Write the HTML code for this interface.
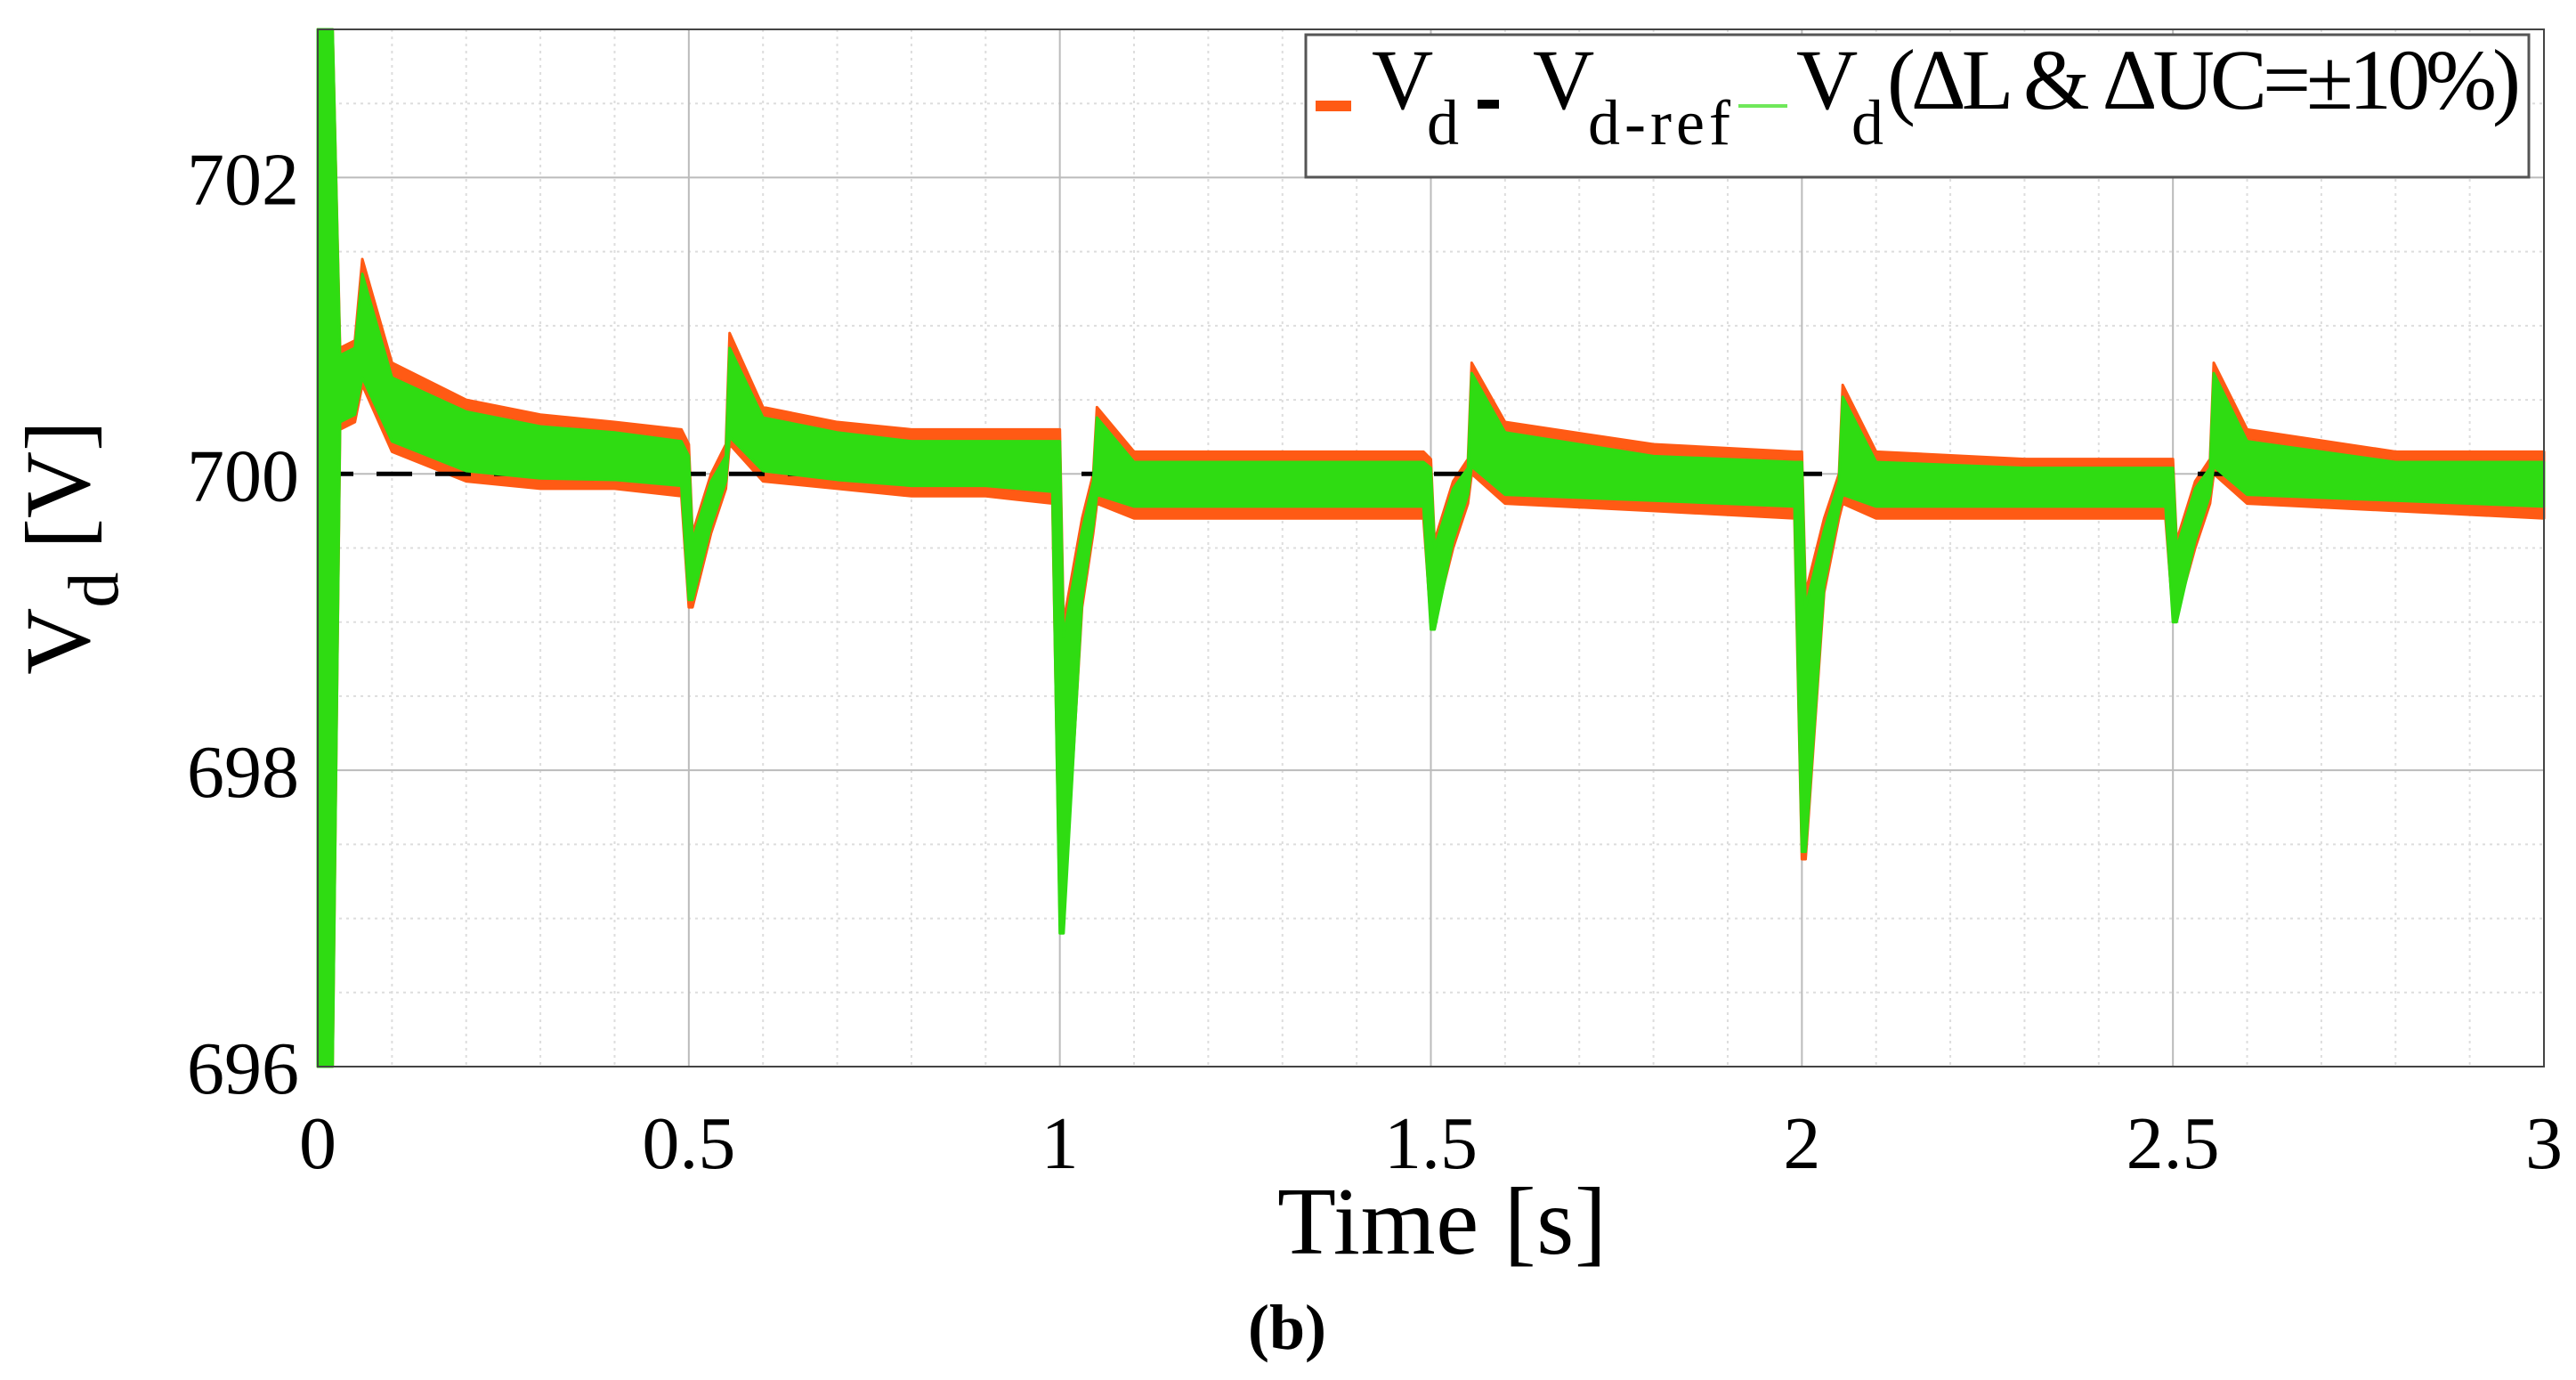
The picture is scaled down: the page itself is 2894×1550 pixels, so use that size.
<!DOCTYPE html>
<html><head><meta charset="utf-8">
<style>
html,body{margin:0;padding:0;background:#fff;}
svg{display:block;}
text{font-family:"Liberation Serif",serif;fill:#000;}
</style></head>
<body>
<svg id="chart" width="2894" height="1550" viewBox="0 0 2894 1550" xmlns="http://www.w3.org/2000/svg">
  <g id="grid"></g>
  <g id="series"></g>
  <rect x="357" y="33" width="2501" height="1165" fill="none" stroke="#444" stroke-width="2"/>
  <g id="ticks"></g>
  <text x="1620" y="1408" font-size="108" text-anchor="middle" textLength="370">Time [s]</text>
  <text transform="translate(100,615) rotate(-90)" font-size="104" text-anchor="middle">V<tspan font-size="80" dy="32">d</tspan><tspan dy="-32"> [V]</tspan></text>
  <text x="1446" y="1515" font-size="72" font-weight="bold" text-anchor="middle">(b)</text>
  <g>
    <rect x="1467" y="39" width="1374" height="160" fill="#fff" stroke="#555" stroke-width="3"/>
    <rect x="1478" y="113" width="40" height="12" fill="#ff5a14"/>
    <text x="1541" y="122" font-size="96">V</text>
    <text x="1603" y="162" font-size="72">d</text>
    <rect x="1660" y="112" width="24" height="10" fill="#000"/>
    <text x="1722" y="122" font-size="96">V</text>
    <text x="1784" y="162" font-size="72" textLength="160">d-ref</text>
    <rect x="1953" y="117" width="55" height="4" fill="#6fe85a"/>
    <text x="2018" y="122" font-size="96">V</text>
    <text x="2080" y="162" font-size="72">d</text>
    <text x="2120" y="122" font-size="96" textLength="712">(ΔL &amp; ΔUC=±10%)</text>
  </g>
</svg>
<script>
const xTicks=[0,0.5,1,1.5,2,2.5,3];
const xTickLabels=["0","0.5","1","1.5","2","2.5","3"];
const yTicks=[696,698,700,702];
const yTickLabels=["696","698","700","702"];
const refValue=700;
const times=[0,0.005,0.01,0.015,0.02,0.03,0.05,0.06,0.1,0.2,0.3,0.4,0.49,0.5,0.505,0.53,0.55,0.555,0.6,0.7,0.8,0.9,0.99,1.0,1.005,1.03,1.045,1.05,1.1,1.2,1.4,1.49,1.5,1.505,1.53,1.55,1.555,1.6,1.8,1.99,2.0,2.005,2.03,2.05,2.055,2.1,2.3,2.49,2.5,2.505,2.53,2.55,2.555,2.6,2.8,3.0];
const vdHigh=[703,703,703,703,703,700.85,700.9,701.45,700.75,700.5,700.4,700.35,700.3,700.2,699.6,700.0,700.2,700.95,700.45,700.35,700.3,700.3,700.3,700.3,699.0,699.7,700.0,700.45,700.15,700.15,700.15,700.15,700.1,699.55,699.95,700.1,700.75,700.35,700.2,700.15,700.15,699.2,699.7,700.0,700.6,700.15,700.1,700.1,700.1,699.55,699.95,700.1,700.75,700.3,700.15,700.15];
const vdLow=[696,696,696,696,696,700.3,700.35,700.6,700.15,699.95,699.9,699.9,699.85,699.1,699.1,699.6,699.9,700.2,699.95,699.9,699.85,699.85,699.8,697.0,697.0,699.1,699.6,699.8,699.7,699.7,699.7,699.7,699.0,699.0,699.5,699.8,700.0,699.8,699.75,699.7,697.4,697.4,699.2,699.7,699.8,699.7,699.7,699.7,699.05,699.05,699.5,699.8,700.0,699.8,699.75,699.7];
const vdVarHigh=[703,703,703,703,703,700.8,700.85,701.35,700.65,700.42,700.32,700.28,700.22,700.12,699.55,699.95,700.12,700.85,700.38,700.28,700.22,700.22,700.22,700.22,698.9,699.62,699.95,700.38,700.08,700.08,700.08,700.08,700.04,699.5,699.9,700.04,700.68,700.28,700.12,700.08,700.08,699.1,699.62,699.95,700.52,700.08,700.04,700.04,700.04,699.5,699.9,700.04,700.68,700.22,700.08,700.08];
const vdVarLow=[696,696,696,696,696,700.35,700.4,700.65,700.22,700.02,699.97,699.96,699.92,699.15,699.15,699.65,699.95,700.25,700.02,699.96,699.92,699.92,699.88,696.9,696.9,699.15,699.65,699.86,699.78,699.78,699.78,699.78,698.95,698.95,699.55,699.86,700.05,699.86,699.82,699.78,697.45,697.45,699.25,699.75,699.86,699.78,699.78,699.78,699.0,699.0,699.55,699.86,700.05,699.86,699.82,699.78];

const NS="http://www.w3.org/2000/svg";
const X0=357,X1=2858,Y0=1198,Y1=33,TMIN=0,TMAX=3,VMIN=696,VMAX=703;
function xs(t){return X0+(t-TMIN)/(TMAX-TMIN)*(X1-X0);}
function ys(v){return Y0-(v-VMIN)/(VMAX-VMIN)*(Y0-Y1);}
function mk(tag,attrs,parent){const e=document.createElementNS(NS,tag);for(const k in attrs)e.setAttribute(k,attrs[k]);parent.appendChild(e);return e;}
const grid=document.getElementById('grid');
for(let i=1;i<30;i++){const t=i*0.1;if(i%5===0)continue;
  const l=mk('line',{x1:xs(t),x2:xs(t),y1:Y1,y2:Y0,stroke:'#ddd','stroke-width':2,'stroke-dasharray':'3,5'},grid);
  
  }
for(let v=696.5;v<703;v+=0.5){if(v%2===0)continue;
  const l=mk('line',{x1:X0,x2:X1,y1:ys(v),y2:ys(v),stroke:'#ddd','stroke-width':2,'stroke-dasharray':'3,5'},grid);
  
  }
xTicks.forEach(t=>{const l=mk('line',{x1:xs(t),x2:xs(t),y1:Y1,y2:Y0,stroke:'#bbb','stroke-width':2},grid);
  
  });
yTicks.forEach(v=>{const l=mk('line',{x1:X0,x2:X1,y1:ys(v),y2:ys(v),stroke:'#bbb','stroke-width':2},grid);
  
  });
const ser=document.getElementById('series');
function band(hi,lo,color){let d='M'+times.map((t,i)=>xs(t)+','+ys(hi[i])).join(' L');
  for(let i=times.length-1;i>=0;i--)d+=' L'+xs(times[i])+','+ys(lo[i]);d+=' Z';
  return mk('path',{d:d,fill:color,stroke:color,'stroke-width':3,'stroke-linejoin':'round'},ser);}
const bo=band(vdHigh,vdLow,'#ff5a14');


const ref=mk('line',{x1:xs(TMIN),x2:xs(TMAX),y1:ys(refValue),y2:ys(refValue),stroke:'#000','stroke-width':5,'stroke-dasharray':'40,26'},ser);


const bg=band(vdVarHigh,vdVarLow,'#2fdc12');


const ticks=document.getElementById('ticks');
xTicks.forEach((t,i)=>{const e=mk('text',{x:xs(t),y:1312,'font-size':84,'text-anchor':'middle'},ticks);e.textContent=xTickLabels[i];
  
  });
yTicks.forEach((v,i)=>{const e=mk('text',{x:336,y:ys(v)+30,'font-size':84,'text-anchor':'end'},ticks);e.textContent=yTickLabels[i];
  
  });
</script>
</body></html>
